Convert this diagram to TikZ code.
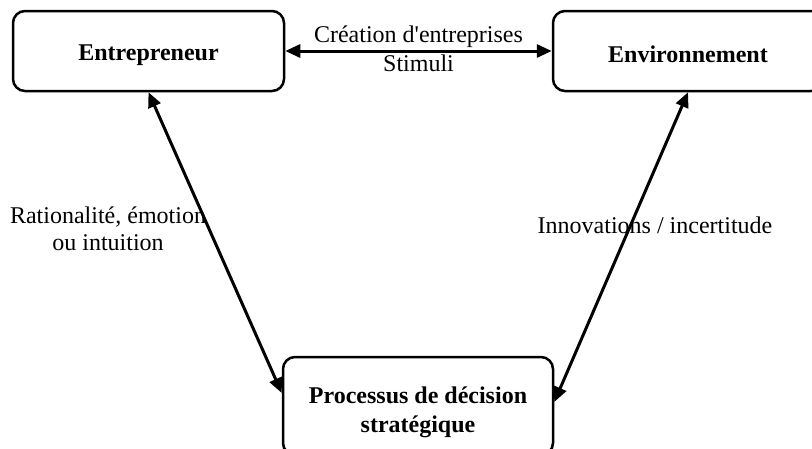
\documentclass[tikz,border=0pt]{standalone}
\usepackage{fontspec}
\setmainfont{Liberation Serif}[Ligatures=TeXOff]
\usetikzlibrary{arrows.meta}
\begin{document}
\begin{tikzpicture}[x=1pt,y=-1pt,
  box/.style={draw, line width=2.5pt, rounded corners=12pt, align=center,
    font=\fontsize{24}{29}\selectfont\bfseries, inner sep=0pt},
  lbl/.style={align=center, font=\fontsize{24}{27}\selectfont, inner sep=2pt},
  link/.style={line width=3pt,
    {Triangle[length=15pt,width=13pt]}-{Triangle[length=15pt,width=13pt]}}]
\useasboundingbox (0,0) rectangle (812,448);
\clip (0,0) rectangle (812,448);
\node[box, minimum width=271pt, minimum height=80pt] (entre) at (148.5,51) {\rule{0pt}{24pt}Entrepreneur};
\node[box, minimum width=270pt, minimum height=80pt] (env) at (688,51) {\rule{0pt}{24pt}Environnement};
\node[box, minimum width=270pt, minimum height=98pt] (proc) at (418,406) {\rule{0pt}{30pt}Processus de décision\\stratégique};
\draw[link] (entre.east) -- (env.west)
  node[midway, above, lbl] (crea) {Création d'entreprises}
  node[midway, below, lbl] (stim) {Stimuli};
\draw[link] (entre.south) -- ([yshift=13pt]proc.west);
\draw[link] (env.south) -- ([yshift=4pt]proc.east);
\node[lbl] (rat) at (108,229) {Rationalité, émotion\\ou intuition};
\node[lbl] (inno) at (655,225) {Innovations / incertitude};
\end{tikzpicture}
\end{document}
